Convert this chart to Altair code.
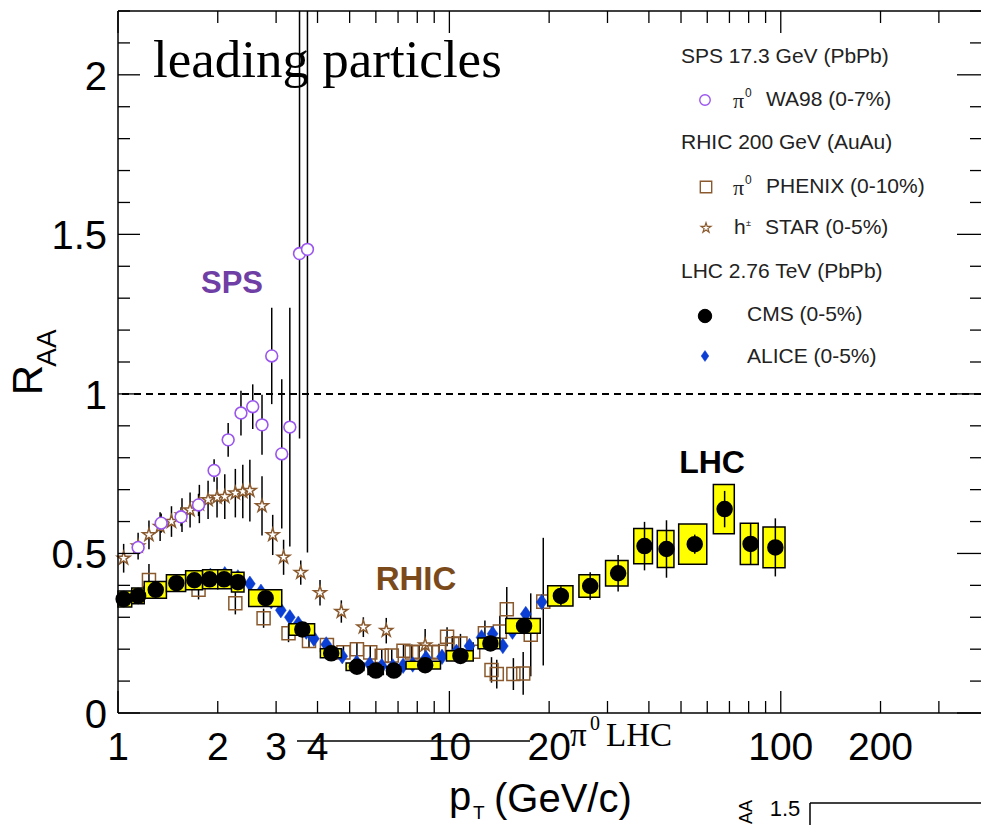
import altair as alt
import pandas as pd

# ---------------- data ----------------
# CMS charged hadrons (0-5%), PbPb 2.76 TeV
cms_pt = [1.04, 1.15, 1.30, 1.50, 1.70, 1.89, 2.09, 2.30, 2.79, 3.60, 4.40, 5.26, 6.0, 6.8,
          8.45, 10.8, 13.3, 16.8, 21.7, 26.6, 32.3, 38.8, 45.2, 55.0, 67.7, 81.1, 96.3]
cms_raa = [0.357, 0.367, 0.386, 0.407, 0.416, 0.419, 0.419, 0.41, 0.36, 0.262, 0.187, 0.145, 0.133, 0.133,
           0.15, 0.179, 0.218, 0.273, 0.367, 0.398, 0.438, 0.523, 0.514, 0.529, 0.639, 0.53, 0.519]
cms_box_lo = [1.0, 1.1, 1.2, 1.4, 1.6, 1.8, 2.0, 2.2, 2.48, 3.28, 4.08, 4.88, 5.68, 6.48,
              7.4, 9.8, 12.2, 14.8, 19.8, 24.6, 29.6, 36.0, 42.4, 49.2, 62.6, 75.5, 88.4]
cms_box_hi = [1.1, 1.2, 1.4, 1.6, 1.8, 2.0, 2.2, 2.4, 3.12, 3.92, 4.72, 5.52, 6.32, 7.12,
              9.4, 11.8, 14.2, 18.8, 23.6, 28.4, 34.6, 41.0, 47.6, 59.8, 72.4, 85.5, 103.0]
cms_sys = [0.025, 0.025, 0.026, 0.026, 0.03, 0.03, 0.03, 0.031, 0.026, 0.018, 0.014, 0.012, 0.012, 0.012,
           0.012, 0.016, 0.017, 0.023, 0.032, 0.035, 0.04, 0.055, 0.058, 0.063, 0.077, 0.065, 0.064]
cms_stat = [0.003, 0.003, 0.003, 0.003, 0.003, 0.003, 0.003, 0.003, 0.003, 0.003, 0.003, 0.003, 0.003, 0.003,
            0.003, 0.004, 0.008, 0.012, 0.03, 0.043, 0.057, 0.076, 0.09, 0.03, 0.057, 0.065, 0.091]

# ALICE charged hadrons (0-5%)
alice_pt = [1.9, 2.1, 2.3, 2.5, 2.7, 2.9, 3.1, 3.3, 3.5, 3.7, 3.9, 4.25, 4.75, 5.25, 5.75, 6.25,
            6.75, 7.25, 7.75, 8.5, 9.5, 10.5, 11.5, 12.5, 13.5, 14.5, 15.5, 17.0, 19.0]
alice_raa = [0.43, 0.435, 0.425, 0.405, 0.38, 0.35, 0.322, 0.30, 0.28, 0.255, 0.233, 0.215, 0.178, 0.158,
             0.153, 0.147, 0.146, 0.148, 0.152, 0.172, 0.176, 0.192, 0.21, 0.237, 0.248, 0.21, 0.255, 0.31, 0.348]

# PHENIX pi0 (0-10%), AuAu 200 GeV
phx_pt = [1.24, 1.75, 2.26, 2.75, 3.27, 3.77, 4.27, 4.79, 5.26, 5.77, 6.25, 6.7, 7.27, 7.7, 8.1,
          8.87, 9.3, 9.84, 10.2, 10.8, 11.8, 12.8, 13.4, 13.9, 14.2, 14.9, 15.6, 16.7, 17.6, 19.2]
phx_raa = [0.417, 0.386, 0.344, 0.297, 0.25, 0.226, 0.213, 0.19, 0.2, 0.19, 0.179, 0.18, 0.195, 0.19, 0.192,
           0.19, 0.192, 0.239, 0.216, 0.218, 0.192, 0.25, 0.135, 0.122, 0.255, 0.325, 0.122, 0.124, 0.245, 0.349]
phx_err = [0.05, 0.03, 0.035, 0.03, 0.028, 0.02, 0.02, 0.02, 0.02, 0.02, 0.02, 0.02, 0.02, 0.025, 0.02,
           0.02, 0.025, 0.03, 0.025, 0.03, 0.03, 0.04, 0.04, 0.045, 0.05, 0.07, 0.05, 0.067, 0.13, 0.2]

# STAR h+- (0-5%)
star_pt = [1.04, 1.15, 1.24, 1.34, 1.45, 1.56, 1.65, 1.76, 1.87, 1.99, 2.1, 2.26, 2.38, 2.5,
           2.72, 2.93, 3.16, 3.56, 4.07, 4.72, 5.5, 6.45, 8.45]
star_raa = [0.485, 0.523, 0.558, 0.584, 0.60, 0.62, 0.636, 0.655, 0.668, 0.676, 0.678, 0.689, 0.694, 0.697,
            0.649, 0.558, 0.488, 0.44, 0.377, 0.318, 0.269, 0.258, 0.213]
star_err = [0.045, 0.042, 0.045, 0.045, 0.048, 0.053, 0.055, 0.06, 0.06, 0.063, 0.07, 0.076, 0.084, 0.097,
            0.093, 0.063, 0.055, 0.038, 0.04, 0.035, 0.031, 0.04, 0.05]

# WA98 pi0 (0-7%), PbPb 17.3 GeV
wa_pt = [1.15, 1.35, 1.55, 1.75, 1.95, 2.15, 2.35, 2.55, 2.72, 2.91, 3.12, 3.3, 3.53, 3.73]
wa_raa = [0.519, 0.595, 0.615, 0.652, 0.76, 0.856, 0.94, 0.96, 0.903, 1.119, 0.812, 0.896, 1.44, 1.453]
wa_err_dn = [0.02, 0.03, 0.03, 0.035, 0.035, 0.053, 0.07, 0.07, 0.094, 0.151, 0.234, 0.374, 0.58, 0.95]
wa_err_up = [0.02, 0.03, 0.03, 0.035, 0.035, 0.053, 0.07, 0.07, 0.094, 0.151, 0.234, 0.374, 0.9, 0.9]

x_label_values = [1, 2, 3, 4, 10, 20, 100, 200]
x_label_texts = ["1", "2", "3", "4", "10", "20", "100", "200"]
y_label_values = [0, 0.5, 1, 1.5, 2]
y_label_texts = ["0", "0.5", "1", "1.5", "2"]
x_major_ticks = [1, 10, 100]
x_minor_ticks = [2, 3, 4, 5, 6, 7, 8, 9, 20, 30, 40, 50, 60, 70, 80, 90, 200, 300]
y_major_ticks = [0, 0.5, 1, 1.5, 2]
y_minor_ticks = [0.1, 0.2, 0.3, 0.4, 0.6, 0.7, 0.8, 0.9, 1.1, 1.2, 1.3, 1.4, 1.6, 1.7, 1.8, 1.9, 2.1, 2.2]

# ---------------- layout ----------------
W, H = 863, 702
OX, OY = 118, 11
XS = alt.Scale(type="log", domain=[1, 402])
YS = alt.Scale(domain=[0, 2.2], nice=False, zero=False)
SANS = "Liberation Sans"
SERIF = "Liberation Serif"

PURPLE = "#9a55ee"
BROWN = "#8a5a2e"
BLUE = "#0b3fd4"
YELLOW = "#ffff00"

STAR_PATH = ("M0,-1L0.2245,-0.309L0.951,-0.309L0.363,0.118L0.588,0.809L0,0.382"
             "L-0.588,0.809L-0.363,0.118L-0.951,-0.309L-0.2245,-0.309Z")
DIAMOND_PATH = "M0,-1L0.7,0L0,1L-0.7,0Z"

cms = pd.DataFrame({"pt": cms_pt, "raa": cms_raa, "blo": cms_box_lo, "bhi": cms_box_hi,
                    "sys": cms_sys, "stat": cms_stat})
cms["ylo"] = cms.raa - cms.sys
cms["yhi"] = cms.raa + cms.sys
cms["slo"] = cms.raa - cms.stat
cms["shi"] = cms.raa + cms.stat
alice = pd.DataFrame({"pt": alice_pt, "raa": alice_raa})
phx = pd.DataFrame({"pt": phx_pt, "raa": phx_raa, "err": phx_err})
phx["lo"] = phx.raa - phx.err
phx["hi"] = phx.raa + phx.err
star = pd.DataFrame({"pt": star_pt, "raa": star_raa, "err": star_err})
star["lo"] = star.raa - star.err
star["hi"] = star.raa + star.err
wa = pd.DataFrame({"pt": wa_pt, "raa": wa_raa, "dn": wa_err_dn, "up": wa_err_up})
wa["lo"] = wa.raa - wa.dn
wa["hi"] = wa.raa + wa.up


def xq(f):
    return alt.X(f, type="quantitative", scale=XS, axis=None)


def yq(f):
    return alt.Y(f, type="quantitative", scale=YS, axis=None)


one = pd.DataFrame({"k": [0]})


def text(t, px, py, size, font=SANS, color="black", bold=False, align="left",
         baseline="middle", angle=None):
    kw = dict(text=t, font=font, fontSize=size, color=color, align=align, baseline=baseline,
              fontWeight="bold" if bold else "normal")
    if angle is not None:
        kw["angle"] = angle
    return alt.Chart(one).mark_text(**kw).encode(x=alt.value(px - OX), y=alt.value(py - OY))


def marker(px, py, shape, size, fill, stroke, sw=1.5):
    return alt.Chart(one).mark_point(shape=shape, size=size, filled=True, fill=fill, stroke=stroke,
                                     strokeWidth=sw, opacity=1).encode(
        x=alt.value(px - OX), y=alt.value(py - OY))


def hline(px1, px2, py, sw=1.5):
    return alt.Chart(one).mark_rule(color="black", strokeWidth=sw).encode(
        x=alt.value(px1 - OX), x2=alt.value(px2 - OX), y=alt.value(py - OY))


def vline(px, py1, py2, sw=1.5):
    return alt.Chart(one).mark_rule(color="black", strokeWidth=sw).encode(
        x=alt.value(px - OX), y=alt.value(py1 - OY), y2=alt.value(py2 - OY))


# ---------------- frame, tick labels, ticks ----------------
frame = [
    hline(OX, OX + W, OY, 1.5),
    hline(OX, OX + W, OY + H, 1.5),
    vline(OX, OY, OY + H, 1.5),
]

xlab = alt.Chart(pd.DataFrame({"v": x_label_values, "t": x_label_texts})).mark_text(
    font=SANS, fontSize=39, color="black", align="center", baseline="alphabetic").encode(
    x=xq("v"), y=alt.value(760 - OY), text="t:N")
ylab = alt.Chart(pd.DataFrame({"v": y_label_values, "t": y_label_texts})).mark_text(
    font=SANS, fontSize=40, color="black", align="right", baseline="alphabetic", dy=15).encode(
    y=yq("v"), x=alt.value(-11), text="t:N")

xmaj = pd.DataFrame({"v": x_major_ticks})
xmin = pd.DataFrame({"v": x_minor_ticks})
ymaj = pd.DataFrame({"v": y_major_ticks})
ymin = pd.DataFrame({"v": y_minor_ticks})
tick_style = dict(color="black", strokeWidth=1.3)
ticks = [
    alt.Chart(xmaj).mark_rule(**tick_style).encode(x=xq("v"), y=alt.value(H), y2=alt.value(H - 22)),
    alt.Chart(xmin).mark_rule(**tick_style).encode(x=xq("v"), y=alt.value(H), y2=alt.value(H - 12)),
    alt.Chart(xmaj).mark_rule(**tick_style).encode(x=xq("v"), y=alt.value(0), y2=alt.value(22)),
    alt.Chart(xmin).mark_rule(**tick_style).encode(x=xq("v"), y=alt.value(0), y2=alt.value(12)),
    alt.Chart(ymaj).mark_rule(**tick_style).encode(y=yq("v"), x=alt.value(0), x2=alt.value(22)),
    alt.Chart(ymin).mark_rule(**tick_style).encode(y=yq("v"), x=alt.value(0), x2=alt.value(12)),
    alt.Chart(ymaj).mark_rule(**tick_style).encode(y=yq("v"), x=alt.value(W), x2=alt.value(W - 24)),
    alt.Chart(ymin).mark_rule(**tick_style).encode(y=yq("v"), x=alt.value(W), x2=alt.value(W - 11)),
]

unity = alt.Chart(pd.DataFrame({"v": [1.0]})).mark_rule(
    color="black", strokeWidth=2, strokeDash=[7, 5]).encode(y=yq("v"))

# ---------------- data layers ----------------
err_style = dict(color="black", strokeWidth=1.5)
star_err_l = alt.Chart(star).mark_rule(**err_style).encode(x=xq("pt"), y=yq("lo"), y2=alt.Y2("hi"))
star_pts = alt.Chart(star).mark_point(shape=STAR_PATH, size=180, filled=True, fill="white",
                                       stroke=BROWN, strokeWidth=1.5, opacity=1).encode(
    x=xq("pt"), y=yq("raa"))
wa_err_l = alt.Chart(wa).mark_rule(clip=True, **err_style).encode(x=xq("pt"), y=yq("lo"), y2=alt.Y2("hi"))
wa_pts = alt.Chart(wa).mark_point(shape="circle", size=140, filled=True, fill="white",
                                   stroke=PURPLE, strokeWidth=1.6, opacity=1).encode(
    x=xq("pt"), y=yq("raa"))
phx_err_l = alt.Chart(phx).mark_rule(**err_style).encode(x=xq("pt"), y=yq("lo"), y2=alt.Y2("hi"))
phx_pts = alt.Chart(phx).mark_point(shape="square", size=170, filled=False, stroke=BROWN,
                                     strokeWidth=1.5, opacity=1).encode(x=xq("pt"), y=yq("raa"))
alice_pts = alt.Chart(alice).mark_point(shape=DIAMOND_PATH, size=240, filled=True, fill=BLUE,
                                         stroke=BLUE, strokeWidth=0.5, opacity=1).encode(
    x=xq("pt"), y=yq("raa"))
cms_box = alt.Chart(cms).mark_rect(fill=YELLOW, stroke="black", strokeWidth=1.5).encode(
    x=xq("blo"), x2=alt.X2("bhi"), y=yq("ylo"), y2=alt.Y2("yhi"))
cms_err_l = alt.Chart(cms).mark_rule(**err_style).encode(x=xq("pt"), y=yq("slo"), y2=alt.Y2("shi"))
cms_pts = alt.Chart(cms).mark_point(shape="circle", size=210, filled=True, fill="black",
                                     stroke="black", opacity=1).encode(x=xq("pt"), y=yq("raa"))

# ---------------- annotations ----------------
LEG = 21
anns = [
    text("leading particles", 153, 77, 53, font=SERIF, baseline="alphabetic"),
    text("SPS", 232, 284, 31, color="#6f3fa6", bold=True, align="center"),
    text("RHIC", 416, 580, 33, color="#7b4a1b", bold=True, align="center"),
    text("LHC", 712, 463, 32, color="black", bold=True, align="center"),
    # legend
    text("SPS 17.3 GeV (PbPb)", 681, 57, LEG, color="#222222"),
    text("π", 733, 101, 22, font=SERIF, color="#222222"),
    text("0", 745, 93, 12, color="#222222"),
    text("WA98 (0-7%)", 766, 100, LEG, color="#222222"),
    text("RHIC 200 GeV (AuAu)", 681, 143, LEG, color="#222222"),
    text("π", 733, 188, 22, font=SERIF, color="#222222"),
    text("0", 745, 180, 12, color="#222222"),
    text("PHENIX (0-10%)", 766, 187, LEG, color="#222222"),
    text("h", 734, 228, LEG, color="#222222"),
    text("±", 746, 223, 9, color="#222222"),
    text("STAR (0-5%)", 765, 228, LEG, color="#222222"),
    text("LHC 2.76 TeV (PbPb)", 681, 272, LEG, color="#222222"),
    text("CMS (0-5%)", 747, 315, LEG, color="#222222"),
    text("ALICE (0-5%)", 747, 357, LEG, color="#222222"),
    marker(705, 100, "circle", 110, "white", PURPLE, 1.4),
    marker(706, 187, "square", 130, "white", BROWN, 1.4),
    marker(706, 228, STAR_PATH, 110, "white", BROWN, 1.2),
    marker(705, 316, "circle", 180, "black", "black", 1),
    marker(705, 356, DIAMOND_PATH, 120, BLUE, BLUE, 0.5),
    # axis titles
    text("R", 42, 380, 42, angle=270, align="center", baseline="alphabetic"),
    text("AA", 56, 348, 28, angle=270, align="center", baseline="alphabetic"),
    text("p", 449, 810, 40, baseline="alphabetic"),
    text("T", 473, 819, 19, baseline="alphabetic"),
    text("(GeV/c)", 494, 812, 40, baseline="alphabetic"),
    # overlay fragments
    text("π", 570, 746, 33, font=SERIF, baseline="alphabetic"),
    text("0", 590, 730, 20, font=SERIF, baseline="alphabetic"),
    text("LHC", 606, 746, 33, font=SERIF, baseline="alphabetic"),
    hline(297, 530, 741, 1.5),
    text("1.5", 785, 809, 22, align="center"),
    text("AA", 752, 812, 18, angle=270, align="center", baseline="alphabetic"),
    hline(810, 981, 803, 1.5),
    vline(810, 803, 825, 1.5),
]

chart = alt.layer(
    unity,
    star_err_l, wa_err_l, phx_err_l,
    star_pts, wa_pts, phx_pts, alice_pts,
    cms_box, cms_err_l, cms_pts,
    *frame, *ticks, xlab, ylab, *anns,
).properties(
    width=W, height=H,
    autosize=alt.AutoSizeParams(type="none"),
    padding={"left": OX, "top": OY, "right": 0, "bottom": 825 - OY - H},
    background="white",
).configure_view(stroke=None)

chart.save("out.html", embed_options={"renderer": "svg", "actions": False})
